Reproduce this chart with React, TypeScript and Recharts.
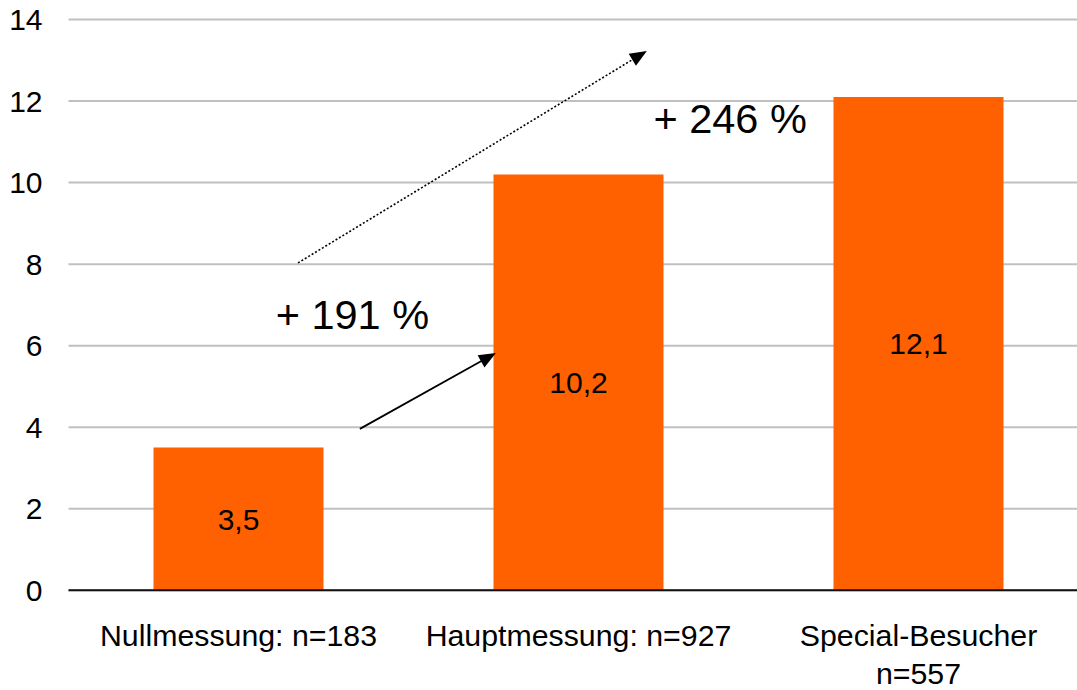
import React from "react";
import {
  BarChart,
  Bar,
  XAxis,
  YAxis,
  CartesianGrid,
  LabelList,
  ReferenceLine,
  ReferenceDot,
} from "recharts";

// Groups and their measured values
const categories = ["Nullmessung: n=183", "Hauptmessung: n=927", "Special-Besucher\nn=557"];
const values = [3.5, 10.2, 12.1];
const yTicks = [0, 2, 4, 6, 8, 10, 12, 14];

// Growth annotations, positioned on the continuous 0..3 group scale
const growthLabels = ["+ 191 %", "+ 246 %"];
const growthLabelX = [0.835, 1.946];
const growthLabelY = [6.77, 11.57];
const arrowFromX = [0.857, 0.675];
const arrowFromY = [3.96, 8.03];
const arrowToX = [1.257, 1.701];
const arrowToY = [5.82, 13.23];
const arrowDashed = [false, true];

// each group sits in the middle of its unit slot on the x scale
const data = categories.map((name, i) => ({ name, pos: i + 0.5, value: values[i] }));
const xTicks = data.map((d) => d.pos);

const FONT = "'Liberation Sans', Arial, sans-serif";
const ORANGE = "#FF6100";

const fmt = (v: number) => v.toFixed(1).replace(".", ",");

const CategoryTick = (props: any) => {
  const { x, y, payload } = props;
  const idx = Math.floor(Number(payload.value));
  const lines = String(categories[idx] ?? "").split("\n");
  return (
    <text
      x={x}
      y={y + 56}
      textAnchor="middle"
      fill="#000"
      fontSize={30.3}
      fontFamily={FONT}
    >
      {lines.map((line, i) => (
        <tspan key={i} x={x} dy={i === 0 ? 0 : 38}>
          {line}
        </tspan>
      ))}
    </text>
  );
};

const makeArrow = (dashed: boolean) => (props: any) => {
  const { x1, y1, x2, y2 } = props;
  const dx = x2 - x1;
  const dy = y2 - y1;
  const len = Math.sqrt(dx * dx + dy * dy);
  const ux = dx / len;
  const uy = dy / len;
  const headLen = 17;
  const headHalf = 7;
  const bx = x2 - ux * headLen;
  const by = y2 - uy * headLen;
  const pts = `${x2},${y2} ${bx - uy * headHalf},${by + ux * headHalf} ${bx + uy * headHalf},${by - ux * headHalf}`;
  return (
    <g>
      <line
        x1={x1}
        y1={y1}
        x2={bx + ux * 2}
        y2={by + uy * 2}
        stroke="#000"
        strokeWidth={dashed ? 1.6 : 1.8}
        strokeDasharray={dashed ? "2 2" : undefined}
      />
      <polygon points={pts} fill="#000" />
    </g>
  );
};

export default function App() {
  return (
    <div
      style={{
        position: "absolute",
        left: 0,
        top: 0,
        width: 1077,
        height: 690,
        overflow: "hidden",
        background: "#fff",
      }}
    >
      <BarChart
        width={1090}
        height={690}
        data={data}
        margin={{ top: 19.5, right: 1.5, bottom: 0, left: 0 }}
        style={{ fontFamily: FONT }}
      >
        <CartesianGrid vertical={false} stroke="#c0c0c0" strokeWidth={2} />
        <XAxis
          dataKey="pos"
          type="number"
          domain={[0, 3]}
          allowDataOverflow
          ticks={xTicks}
          axisLine={{ stroke: "#111", strokeWidth: 2 }}
          tickLine={false}
          tickSize={0}
          tickMargin={0}
          height={99.7}
          interval={0}
          tick={<CategoryTick />}
        />
        <YAxis
          width={68.5}
          domain={[0, 14]}
          ticks={yTicks}
          axisLine={false}
          tickLine={false}
          tickSize={0}
          tickMargin={26}
          tick={{ fill: "#000", fontSize: 30, fontFamily: FONT }}
        />
        <Bar dataKey="value" fill={ORANGE} barSize={170} isAnimationActive={false}>
          <LabelList
            dataKey="value"
            position="center"
            formatter={(v: any) => fmt(Number(v))}
            fill="#000"
            fontSize={30}
            fontFamily={FONT}
          />
        </Bar>
        {arrowFromX.map((fx, i) => (
          <ReferenceLine
            key={`arrow-${i}`}
            ifOverflow="visible"
            segment={[
              { x: fx, y: arrowFromY[i] },
              { x: arrowToX[i], y: arrowToY[i] },
            ]}
            shape={makeArrow(arrowDashed[i])}
          />
        ))}
        {growthLabels.map((text, i) => (
          <ReferenceDot
            key={`growth-${i}`}
            x={growthLabelX[i]}
            y={growthLabelY[i]}
            r={0}
            fill="none"
            stroke="none"
            ifOverflow="visible"
            label={{
              value: text,
              position: "center",
              fill: "#000",
              fontSize: 41.5,
              fontFamily: FONT,
            }}
          />
        ))}
      </BarChart>
    </div>
  );
}
